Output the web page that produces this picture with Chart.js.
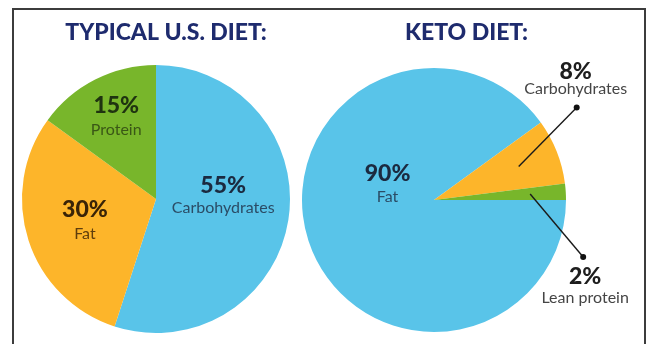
<!DOCTYPE html>
<html>
<head>
<meta charset="utf-8">
<script src="https://cdn.jsdelivr.net/npm/chart.js@4.4.0/dist/chart.umd.min.js"></script>
<style>
  html, body { margin: 0; padding: 0; background: #fff; }
  body { width: 647px; height: 344px; overflow: hidden; position: relative; }
  .frame { position: absolute; left: 12px; top: 8px; width: 630px; height: 400px; border: 2px solid #3c3c3c; }
  canvas { position: absolute; top: 0; }
  #usChart { left: 0; }
  #ketoChart { left: 290px; }
</style>
</head>
<body>
<div class="frame"></div>
<canvas id="usChart" width="300" height="344"></canvas>
<canvas id="ketoChart" width="357" height="344"></canvas>
<script>
(function() {
  const usLabels = ['Carbohydrates', 'Fat', 'Protein'];
  const usValues = [55, 30, 15];
  const ketoLabels = ['Fat', 'Carbohydrates', 'Lean protein'];
  const ketoValues = [90, 8, 2];

  const blue = '#59C4E9', orange = '#FDB52A', green = '#78B62B';
  const numFont = '900 23px Lato, "DejaVu Sans", sans-serif';
  const nameFont = '16px Lato, "DejaVu Sans", sans-serif';

  // labels sit on each slice's mid angle, nudged a bit like the original
  const sliceText = {
    id: 'sliceText',
    afterDatasetsDraw(chart, args, opts) {
      const ctx = chart.ctx;
      const meta = chart.getDatasetMeta(0);
      const values = chart.data.datasets[0].data;
      const names = chart.data.labels;
      ctx.save();
      ctx.textAlign = 'center';
      ctx.textBaseline = 'middle';
      meta.data.forEach((arc, i) => {
        const p = arc.getProps(['x', 'y', 'startAngle', 'endAngle', 'outerRadius'], true);
        const s = opts.spots[i];
        const mid = (p.startAngle + p.endAngle) / 2;
        const ax = p.x + Math.cos(mid) * p.outerRadius * s.frac;
        const ay = p.y + Math.sin(mid) * p.outerRadius * s.frac;
        let tx = ax + s.dx, ty = ay + s.dy;
        if (s.leader) {
          const ex = ax + s.leader[0], ey = ay + s.leader[1];
          ctx.strokeStyle = '#1a1a1a';
          ctx.lineWidth = 1.4;
          ctx.beginPath();
          ctx.moveTo(ax, ay);
          ctx.lineTo(ex, ey);
          ctx.stroke();
          ctx.fillStyle = '#111';
          ctx.beginPath();
          ctx.arc(ex, ey, 3, 0, Math.PI * 2);
          ctx.fill();
          tx = ex + s.dx;
          ty = ey + s.dy;
        }
        ctx.font = numFont;
        ctx.fillStyle = s.numColor;
        ctx.fillText(values[i] + '%', tx, ty - s.gap);
        ctx.font = nameFont;
        ctx.fillStyle = s.nameColor;
        ctx.fillText(names[i], tx, ty + s.gap);
      });
      ctx.font = '900 23px Lato, "DejaVu Sans", sans-serif';
      ctx.fillStyle = '#1E2B6E';
      ctx.fillText(opts.title, opts.titleX, opts.titleY);
      ctx.restore();
    }
  };

  function pieOptions(radius, padding, rotation, textOpts) {
    return {
      responsive: false,
      devicePixelRatio: 1,
      animation: false,
      rotation: rotation,
      radius: radius,
      layout: { padding: padding },
      plugins: {
        legend: { display: false },
        tooltip: { enabled: false },
        sliceText: textOpts
      }
    };
  }

  new Chart(document.getElementById('usChart'), {
    type: 'pie',
    data: {
      labels: usLabels,
      datasets: [{ data: usValues, backgroundColor: [blue, orange, green], borderWidth: 0 }]
    },
    options: pieOptions(134, { left: 12, right: 0, top: 54, bottom: 0 }, 0, {
      title: 'TYPICAL U.S. DIET:', titleX: 166, titleY: 33,
      spots: [
        { frac: 0.5, dx: 1, dy: -12.5, gap: 11, numColor: '#1b2a40', nameColor: '#2b4c66' },
        { frac: 0.55, dx: -1, dy: 0, gap: 12, numColor: '#3a2407', nameColor: '#5e3d0c' },
        { frac: 0.67, dx: 1, dy: -1, gap: 12, numColor: '#1f3310', nameColor: '#3a5716' }
      ]
    }),
    plugins: [sliceText]
  });

  new Chart(document.getElementById('ketoChart'), {
    type: 'pie',
    data: {
      labels: ketoLabels,
      datasets: [{ data: ketoValues, backgroundColor: [blue, orange, green], borderWidth: 0 }]
    },
    options: pieOptions(132, { left: 0, right: 69, top: 56, bottom: 0 }, 90, {
      title: 'KETO DIET:', titleX: 176.5, titleY: 33,
      spots: [
        { frac: 0.37, dx: 0, dy: -30, gap: 12, numColor: '#1b2a40', nameColor: '#2b4c66' },
        { frac: 0.69, leader: [58, -59], dx: -1, dy: -27.5, gap: 8.5, numColor: '#1e1e1e', nameColor: '#454545' },
        { frac: 0.73, leader: [53, 63], dx: 2, dy: 30.5, gap: 10.5, numColor: '#1e1e1e', nameColor: '#454545' }
      ]
    }),
    plugins: [sliceText]
  });
})();
</script>
</body>
</html>
